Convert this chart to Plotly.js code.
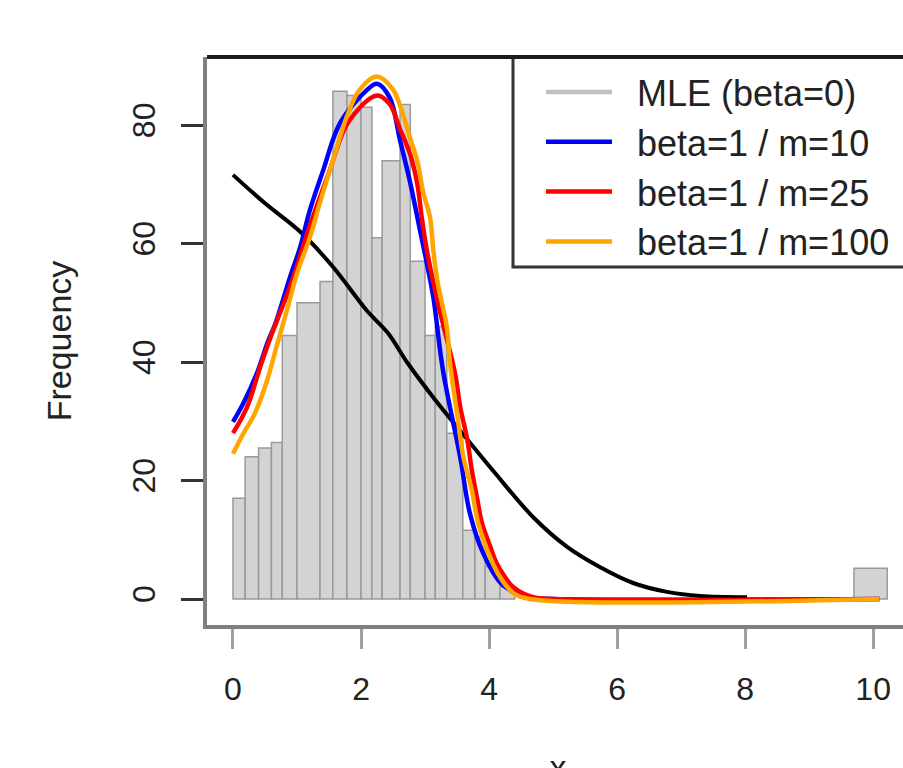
<!DOCTYPE html>
<html>
<head>
<meta charset="utf-8">
<script src="https://cdn.plot.ly/plotly-3.0.1.min.js"></script>
<style>
html,body{margin:0;padding:0;overflow:hidden;background:#fff;}
#chart{width:920px;height:820px;}
</style>
</head>
<body>
<div id="chart"></div>
<script>
// Histogram bins
var binLeft  = [0, 0.19, 0.4, 0.6, 0.77, 1.0, 1.36, 1.56, 1.78, 2.0, 2.17, 2.33, 2.61, 2.77, 3.0, 3.16, 3.34, 3.59, 3.78, 3.94, 4.17, 9.7];
var binRight = [0.19, 0.4, 0.6, 0.77, 1.0, 1.36, 1.56, 1.78, 2.0, 2.17, 2.33, 2.61, 2.77, 3.0, 3.16, 3.34, 3.59, 3.78, 3.94, 4.17, 4.4, 10.22];
var binCount = [17, 24, 25.5, 26.4, 44.5, 50, 53.6, 85.7, 85, 83, 61, 74, 83.5, 57, 44.5, 46, 28, 11.6, 10.5, 5.5, 2, 5.2];

// Black curve
var blackX = [0, 0.5, 1.05, 1.56, 2.09, 2.42, 2.73, 3.16, 3.67, 4.09, 4.69, 5.22, 5.73, 6.25, 6.78, 7.3, 8.03];
var blackY = [71.6, 66.8, 62, 56.1, 48.7, 44.9, 39.8, 33.6, 26.8, 21.3, 13.8, 8.8, 5.4, 2.7, 1.2, 0.5, 0.3];

// beta=1 / m=10 (blue)
var blueX = [0, 0.16, 0.37, 0.55, 0.66, 0.89, 1.05, 1.2, 1.41, 1.67, 2.09, 2.25, 2.45, 2.61, 2.77, 2.92, 3.03, 3.13, 3.28, 3.55, 3.7, 3.91, 4.2, 4.6, 5, 10.1];
var blueY = [29.9, 33, 38, 43.6, 46.4, 54.3, 59.4, 65.6, 72.4, 80.3, 85.9, 87, 84.6, 77.4, 70.2, 62.3, 56.6, 50.9, 38.6, 23.9, 14.5, 7.7, 2.5, 0.3, 0, 0];

// beta=1 / m=25 (red)
var redX = [0, 0.22, 0.42, 0.58, 0.9, 1.2, 1.5, 1.8, 2.25, 2.45, 2.61, 2.77, 2.88, 2.95, 3.03, 3.2, 3.47, 3.55, 3.66, 3.73, 3.81, 3.89, 4.02, 4.12, 4.25, 4.38, 4.69, 5, 10.1];
var redY = [28, 32.4, 39, 44, 53, 63, 72, 80.5, 85, 83.5, 79.3, 75, 70, 64.3, 58.8, 50, 38, 32.4, 26.9, 21.8, 17.2, 12.8, 8.8, 6, 3.7, 2, 0.3, 0, 0];

// beta=1 / m=100 (orange)
var orangeX = [0, 0.16, 0.34, 0.53, 0.69, 0.85, 1.0, 1.2, 1.36, 1.56, 1.78, 1.98, 2.25, 2.5, 2.61, 2.77, 2.88, 2.97, 3.08, 3.13, 3.2, 3.34, 3.39, 3.5, 3.6, 3.73, 3.83, 3.97, 4.17, 4.38, 4.64, 10.1];
var orangeY = [24.5, 27.9, 31.3, 36.8, 43, 49, 55, 61, 67, 74, 81.5, 86, 88.2, 86, 83.3, 77.7, 73.9, 68.7, 64.3, 58.8, 53.3, 45.9, 39.8, 31.3, 23.9, 18.4, 12.8, 8.3, 3.7, 1, 0, 0];

var xTicks = [0, 2, 4, 6, 8, 10];
var yTicks = [0, 20, 40, 60, 80];
var legendNames = ["MLE (beta=0)", "beta=1 / m=10", "beta=1 / m=25", "beta=1 / m=100"];

var centers = binLeft.map(function(l, i){ return (l + binRight[i]) / 2; });
var widths = binLeft.map(function(l, i){ return binRight[i] - l; });
var pad = '\u00a0\u00a0';

var traces = [
  {type:'bar', x:centers, y:binCount, width:widths, showlegend:false,
   marker:{color:'#d3d3d3', line:{color:'#9a9a9a', width:1.5}}, hoverinfo:'skip'},
  {type:'scatter', mode:'lines', x:blackX, y:blackY, showlegend:false,
   line:{color:'#000000', width:4, shape:'spline'}},
  {type:'scatter', mode:'lines', x:[null], y:[null], name:pad + legendNames[0],
   line:{color:'#c0c0c0', width:4.5}},
  {type:'scatter', mode:'lines', x:blueX, y:blueY, name:pad + legendNames[1],
   line:{color:'#0000ff', width:4.5, shape:'spline'}},
  {type:'scatter', mode:'lines', x:redX, y:redY, name:pad + legendNames[2],
   line:{color:'#ff0000', width:4.5, shape:'spline'}},
  {type:'scatter', mode:'lines', x:orangeX, y:orangeY, name:pad + legendNames[3],
   line:{color:'#ffa500', width:4.5, shape:'spline'}}
];

var layout = {
  width:920, height:820,
  margin:{l:207, r:11, t:57, b:195, pad:0},
  paper_bgcolor:'#ffffff', plot_bgcolor:'#ffffff',
  font:{family:'"Liberation Sans", Arial, sans-serif', color:'#222'},
  bargap:0, barmode:'overlay',
  showlegend:true,
  legend:{x:0.4758, y:0.991, xanchor:'left', yanchor:'top',
    bgcolor:'rgba(0,0,0,0)', borderwidth:0, itemwidth:66,
    font:{size:36, color:'#222'}},
  xaxis:{range:[-0.406, 10.56], tickmode:'array', tickvals:xTicks, ticktext:xTicks.map(String),
    showgrid:false, zeroline:false, showline:true, linecolor:'#808080', linewidth:4,
    ticks:'outside', ticklen:20, tickwidth:3, tickcolor:'#a0a0a0',
    tickfont:{size:32, color:'#222'}, ticklabelstandoff:13,
    title:{text:'x', font:{size:34, color:'#222'}, standoff:50}},
  yaxis:{range:[-4.39, 91.5], tickmode:'array', tickvals:yTicks, ticktext:yTicks.map(String),
    showgrid:false, zeroline:false, showline:true, linecolor:'#808080', linewidth:4,
    ticks:'outside', ticklen:22, tickwidth:3, tickcolor:'#333',
    tickangle:-90, tickfont:{size:32, color:'#222'}, ticklabelstandoff:13,
    title:{text:'Frequency', font:{size:34, color:'#222'}, standoff:45}},
  shapes:[
    {type:'line', xref:'paper', yref:'paper', x0:0, x1:1.02, y0:1, y1:1,
     line:{color:'#1c1c1c', width:4}},
    {type:'rect', xref:'paper', yref:'paper', x0:0.4359, x1:1.05, y0:0.6303, y1:1,
     line:{color:'#333333', width:3}, fillcolor:'#ffffff', layer:'below'}
  ]
};

Plotly.newPlot('chart', traces, layout, {displayModeBar:false, staticPlot:true});
</script>
</body>
</html>
